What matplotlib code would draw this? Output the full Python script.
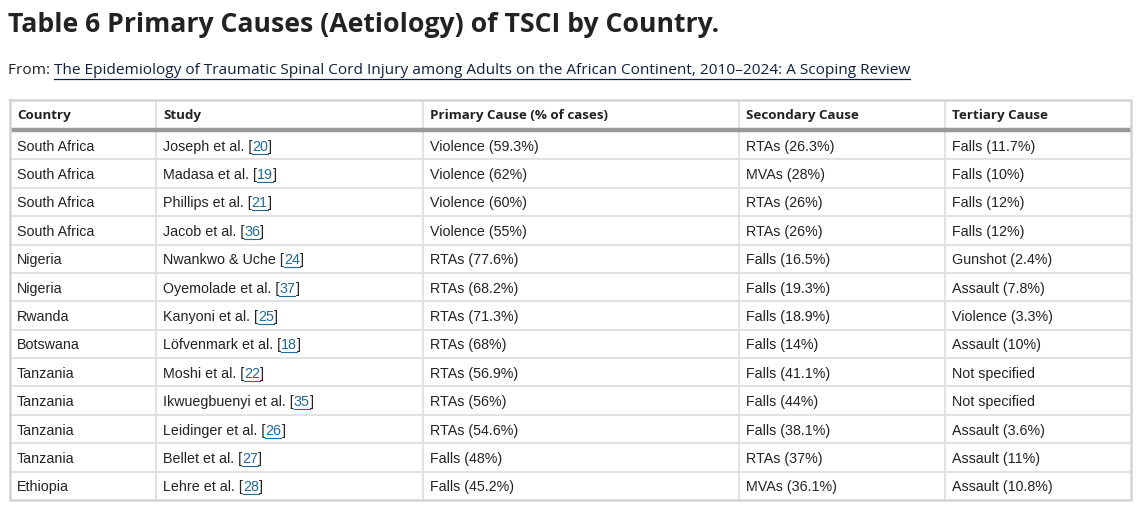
import matplotlib
matplotlib.use('Agg')
import matplotlib.pyplot as plt

title = 'Table 6 Primary Causes (Aetiology) of TSCI by Country.'
source_prefix = 'From: '
source_link = ('The Epidemiology of Traumatic Spinal Cord Injury among Adults on the '
               'African Continent, 2010\u20132024: A Scoping Review')

headers = ['Country', 'Study', 'Primary Cause (% of cases)', 'Secondary Cause', 'Tertiary Cause']
countries = ['South Africa', 'South Africa', 'South Africa', 'South Africa', 'Nigeria', 'Nigeria',
             'Rwanda', 'Botswana', 'Tanzania', 'Tanzania', 'Tanzania', 'Tanzania', 'Ethiopia']
studies = ['Joseph et al.', 'Madasa et al.', 'Phillips et al.', 'Jacob et al.', 'Nwankwo & Uche',
           'Oyemolade et al.', 'Kanyoni et al.', 'L\u00f6fvenmark et al.', 'Moshi et al.',
           'Ikwuegbuenyi et al.', 'Leidinger et al.', 'Bellet et al.', 'Lehre et al.']
refs = ['20', '19', '21', '36', '24', '37', '25', '18', '22', '35', '26', '27', '28']
primary = ['Violence (59.3%)', 'Violence (62%)', 'Violence (60%)', 'Violence (55%)', 'RTAs (77.6%)',
           'RTAs (68.2%)', 'RTAs (71.3%)', 'RTAs (68%)', 'RTAs (56.9%)', 'RTAs (56%)',
           'RTAs (54.6%)', 'Falls (48%)', 'Falls (45.2%)']
secondary = ['RTAs (26.3%)', 'MVAs (28%)', 'RTAs (26%)', 'RTAs (26%)', 'Falls (16.5%)',
             'Falls (19.3%)', 'Falls (18.9%)', 'Falls (14%)', 'Falls (41.1%)', 'Falls (44%)',
             'Falls (38.1%)', 'RTAs (37%)', 'MVAs (36.1%)']
tertiary = ['Falls (11.7%)', 'Falls (10%)', 'Falls (12%)', 'Falls (12%)', 'Gunshot (2.4%)',
            'Assault (7.8%)', 'Violence (3.3%)', 'Assault (10%)', 'Not specified', 'Not specified',
            'Assault (3.6%)', 'Assault (11%)', 'Assault (10.8%)']

W, H = 1136, 507
fig = plt.figure(figsize=(W / 100, H / 100), dpi=100)
ax = fig.add_axes([0, 0, 1, 1])
ax.set_xlim(0, W)
ax.set_ylim(H, 0)
ax.axis('off')

txt = '#222222'
link = '#1f6a9a'
grid = '#dddddd'
px = 0.72  # pixels -> points at 100 dpi
body = 14.2 * px

ax.text(8, 25, title, fontsize=26.6 * px, fontweight='bold', family='Open Sans',
        color='#222222', va='center', ha='left')

r = fig.canvas.get_renderer()
t = ax.text(8, 70, source_prefix, fontsize=15.4 * px, family='Open Sans', color=txt,
            va='center', ha='left')
bb = t.get_window_extent(r)
t2 = ax.text(bb.x1, 70, source_link, fontsize=15.4 * px, family='Open Sans', color='#0f1f3d',
             va='center', ha='left')
bb2 = t2.get_window_extent(r)
ax.plot([bb2.x0, bb2.x1], [78.5, 78.5], color='#0f1f3d', lw=0.9)

col_x = [10, 156, 423, 739, 945, 1131]
top, head_bot = 100, 130
row_h = (500 - 131) / 13.0

# header
for j, h in enumerate(headers):
    ax.text(col_x[j] + 7, 115, h, fontsize=13.4 * px, fontweight='bold', family='Open Sans',
            color=txt, va='center', ha='left')

columns = [countries, None, primary, secondary, tertiary]
for i in range(len(countries)):
    yc = 131 + row_h * (i + 0.5) + 1.5
    for j, col in enumerate(columns):
        if col is None:
            continue
        ax.text(col_x[j] + 7, yc, col[i], fontsize=body, family='Liberation Sans',
                color=txt, va='center', ha='left')
    # study with linked reference
    a = ax.text(col_x[1] + 7, yc, studies[i] + ' [', fontsize=body,
                family='Liberation Sans', color=txt, va='center', ha='left')
    ba = a.get_window_extent(r)
    b = ax.text(ba.x1, yc, refs[i], fontsize=body, family='Liberation Sans',
                color=link, va='center', ha='left')
    bbn = b.get_window_extent(r)
    ax.plot([bbn.x0, bbn.x1], [yc + 7.0, yc + 7.0], color=link, lw=0.8)
    ax.text(bbn.x1, yc, ']', fontsize=body, family='Liberation Sans',
            color=txt, va='center', ha='left')

# row separators
for i in range(1, 13):
    y = 131 + row_h * i
    ax.plot([col_x[0], col_x[-1]], [y, y], color=grid, lw=1.2)
# column separators
for x in col_x[1:-1]:
    ax.plot([x, x], [top, 500], color=grid, lw=1.2)
# header underline
ax.plot([col_x[0], col_x[-1]], [head_bot, head_bot], color='#999999', lw=3.2,
        solid_capstyle='butt')
# outer border
ax.plot([10, 1131, 1131, 10, 10], [top, top, 500, 500, top], color='#d4d4d4', lw=1.8)

fig.savefig('out.png', dpi=100)
